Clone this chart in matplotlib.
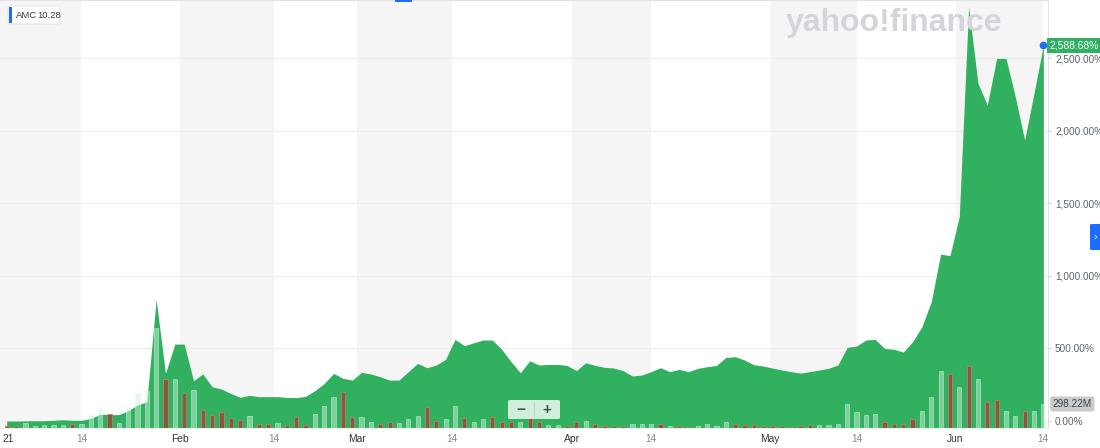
import matplotlib
matplotlib.use('Agg')
import matplotlib.pyplot as plt
from matplotlib.patches import Rectangle, FancyBboxPatch
from matplotlib.transforms import blended_transform_factory
import numpy as np

# % change since start, one value per trading day (Jan 4 .. Jun 14, 2021)
pct_change = [0, 0, 1, 2, 2, 5, 9, 5, 5, 18,
              46, 44, 44, 71, 110, 133, 838, 328, 530, 530,
              278, 324, 236, 220, 190, 163, 177, 168, 168, 168,
              163, 161, 170, 209, 259, 328, 294, 282, 335, 324,
              305, 282, 282, 340, 397, 367, 386, 425, 563, 519,
              539, 558, 558, 494, 409, 333, 415, 386, 390, 390,
              383, 347, 402, 383, 370, 365, 347, 310, 317, 340,
              367, 340, 356, 340, 363, 374, 383, 438, 443, 420,
              388, 379, 365, 351, 340, 330, 340, 351, 363, 386,
              507, 517, 558, 562, 500, 494, 475, 546, 650, 822,
              1150, 1139, 1407, 2853, 2326, 2176, 2498, 2498, 2233, 1935,
              2257, 2588.68]

# volume in millions of shares
volume_m = [29, 29, 66, 25, 37, 37, 37, 46, 50, 162,
            253, 174, 66, 265, 439, 460, 1247, 605, 609, 439,
            472, 224, 166, 195, 124, 99, 149, 54, 50, 58,
            34, 133, 34, 170, 270, 381, 443, 133, 141, 75,
            46, 75, 58, 108, 145, 257, 87, 112, 273, 120,
            75, 116, 141, 79, 79, 71, 141, 79, 37, 37,
            27, 75, 93, 46, 27, 27, 27, 46, 46, 46,
            46, 31, 27, 18, 20, 46, 23, 75, 50, 33,
            33, 27, 27, 27, 12, 29, 33, 33, 41, 46,
            298, 203, 157, 170, 79, 54, 46, 108, 207, 381,
            712, 667, 510, 775, 605, 327, 348, 211, 145, 215,
            211, 298.22]

# u = up day, d = down day
direction = ('dduuuuuduu' 'uduuuuudud' 'uddddduddu'
             'ddduuudduu' 'dduuudduud' 'uudddudduu'
             'ddudddduuu' 'dudduuuudd' 'ddddddduuu'
             'uuuudddduu' 'udududduud' 'uu')

tick_labels = ['21', '14', 'Feb', '14', 'Mar', '14', 'Apr', '14', 'May', '14', 'Jun', '14']
tick_pos = [0.14, 8, 18.6, 28.6, 37.5, 47.7, 60.5, 69, 81.7, 91, 101.6, 111]
y_ticks = [0, 500, 1000, 1500, 2000, 2500]

W, H = 1100, 448
GREEN = '#31b05f'


def fx(px):
    return px / W


def fy(py):
    return 1 - py / H


def main():
    plt.rcParams['font.family'] = ['Liberation Sans', 'DejaVu Sans']
    fig = plt.figure(figsize=(W / 100, H / 100), dpi=100)
    ax = fig.add_axes([0, 20 / H, 1048 / W, 428 / H])

    idx = np.arange(len(pct_change))
    x_lo, x_hi = -0.72, 111.5
    y_lo, y_hi = -48, 2900

    # alternating half-month bands
    edges = [x_lo] + tick_pos[1:]
    for k in range(0, len(edges) - 1, 2):
        ax.axvspan(edges[k], edges[k + 1], color='#f5f5f5', lw=0, zorder=0)

    for v in y_ticks:
        ax.axhline(v, color='#eeeeee', lw=0.8, zorder=0.5)

    ax.fill_between(idx, pct_change, y_lo, color=GREEN, lw=0, zorder=1)
    ax.plot(idx[-1], pct_change[-1], 'o', color='#1a6dff', ms=4.5, zorder=5, clip_on=False)

    ax.set_xlim(x_lo, x_hi)
    ax.set_ylim(y_lo, y_hi)

    # volume bars
    ax2 = ax.twinx()
    ax2.set_ylim(0, 5320)
    ax2.set_xlim(x_lo, x_hi)
    ax2.axis('off')
    up = np.array([c == 'u' for c in direction])
    vol = np.array(volume_m)
    ax2.bar(idx[up], vol[up], width=0.45, color='#c4f2d8', alpha=0.5,
            edgecolor='#eefbf3', linewidth=0.6, zorder=2)
    ax2.bar(idx[~up], vol[~up], width=0.45, color='#855a3e',
            edgecolor='#b58470', linewidth=0.6, zorder=2)

    ax.yaxis.tick_right()
    ax.set_yticks(y_ticks)
    ax.set_yticklabels(['{:,.2f}%'.format(v) for v in y_ticks])
    ax.tick_params(axis='y', length=2.5, width=0.8, color='#d0d0d0', pad=2.5,
                   labelsize=7.2, labelcolor='#5b636a')

    ax.set_xticks(tick_pos)
    ax.set_xticklabels(tick_labels)
    ax.tick_params(axis='x', length=0, pad=4, labelsize=7.4)
    for lab, txt in zip(ax.get_xticklabels(), tick_labels):
        lab.set_color('#828c93' if txt == '14' else '#2f363c')

    ax.spines['left'].set_visible(False)
    ax.spines['right'].set_color('#dfe1e3')
    ax.spines['top'].set_color('#dfe3e8')
    ax.spines['bottom'].set_color('#eeeeee')
    for s in ax.spines.values():
        s.set_linewidth(0.8)

    # right-side value tags
    tr = blended_transform_factory(ax.transAxes, ax.transData)
    ax.text(1.0015, pct_change[-1], '{:,.2f}%'.format(pct_change[-1]), transform=tr,
            fontsize=7.4, color='white', va='center', ha='left', clip_on=False,
            bbox=dict(boxstyle='square,pad=0.25', fc='#2fb062', ec='none'), zorder=6)
    tr2 = blended_transform_factory(ax2.transAxes, ax2.transData)
    ax2.text(1.0045, volume_m[-1], '{:.2f}M'.format(volume_m[-1]), transform=tr2,
             fontsize=7.2, color='#3c4248', va='center', ha='left', clip_on=False,
             bbox=dict(boxstyle='round,pad=0.25,rounding_size=0.2', fc='#c9cbcd', ec='none'),
             zorder=6)

    # watermark
    fig.text(fx(894), fy(23), 'yahoo!finance', fontsize=23, fontweight='bold',
             color='#d2d6dc', ha='center', va='center', zorder=0.8)

    # legend tag
    fig.patches.append(FancyBboxPatch((fx(8), fy(24)), fx(52), 18 / H,
                                      boxstyle='round,pad=0,rounding_size=0.003',
                                      transform=fig.transFigure, fc='white',
                                      ec='#e3e6ea', lw=0.8, zorder=10))
    fig.patches.append(Rectangle((fx(9), fy(23)), fx(3), 16 / H, transform=fig.transFigure,
                                 fc='#1a6dff', ec='none', zorder=11))
    fig.text(fx(16), fy(15), 'AMC', fontsize=6.8, color='#33393f', va='center', zorder=12)
    fig.text(fx(37), fy(15), '10.28', fontsize=6.8, color='#33393f', va='center', zorder=12)

    # zoom control
    fig.patches.append(FancyBboxPatch((fx(508), fy(419)), fx(52), 19 / H,
                                      boxstyle='round,pad=0,rounding_size=0.002',
                                      transform=fig.transFigure, fc='white', alpha=0.78,
                                      ec='none', zorder=10))
    fig.lines.append(plt.Line2D([fx(533.5), fx(533.5)], [fy(402), fy(417)],
                                transform=fig.transFigure, color='#b9d9c6', lw=0.8, zorder=11))
    fig.text(fx(521), fy(410), '\u2212', fontsize=11, fontweight='bold', color='#2f5b42',
             ha='center', va='center', zorder=12)
    fig.text(fx(547), fy(410), '+', fontsize=11, fontweight='bold', color='#2f5b42',
             ha='center', va='center', zorder=12)

    # side tab and top marker
    fig.patches.append(FancyBboxPatch((fx(1090), fy(250)), fx(12), 26 / H,
                                      boxstyle='round,pad=0,rounding_size=0.002',
                                      transform=fig.transFigure, fc='#1a6dff', ec='none',
                                      zorder=10))
    fig.text(fx(1095.5), fy(237), '\u203a', fontsize=8, color='white', ha='center',
             va='center', zorder=12)
    fig.patches.append(Rectangle((fx(395), fy(2)), fx(17), 2 / H, transform=fig.transFigure,
                                 fc='#1a6dff', ec='none', zorder=10))

    fig.savefig('out.png', dpi=100)


if __name__ == '__main__':
    main()
